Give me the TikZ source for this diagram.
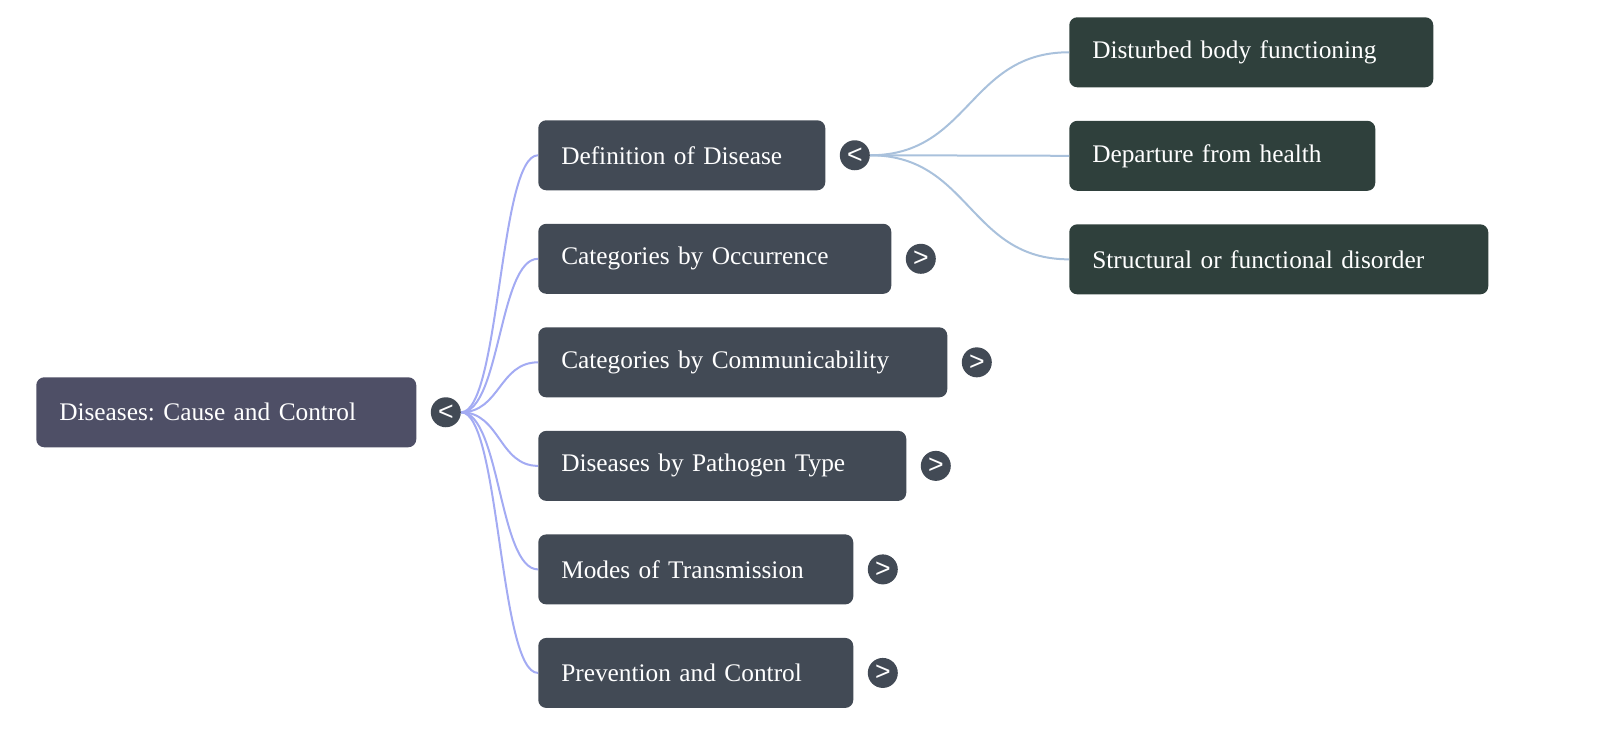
\documentclass[tikz,border=0pt]{standalone}
\usepackage{fontspec}
\setmainfont{Liberation Serif}
\newfontfamily\btnfont{Liberation Sans}
\usetikzlibrary{positioning}
\frenchspacing

\definecolor{rootcol}{HTML}{4E4F66}
\definecolor{lvlone}{HTML}{424A55}
\definecolor{lvltwo}{HTML}{2F403C}
\definecolor{linkone}{HTML}{A3ABF3}
\definecolor{linktwo}{HTML}{A9C1DC}

\tikzset{
	box/.style={rounded corners=6pt, text=white, align=left, minimum height=52.5pt,
		inner xsep=17.25pt, inner ysep=0pt, font=\fontsize{19}{22}\selectfont, text width=#1},
	rootbox/.style={box=#1, fill=rootcol},
	lvl/.style={box=#1, fill=lvlone},
	leaf/.style={box=#1, fill=lvltwo},
	btn/.style={circle, fill=lvlone, text=white, minimum size=22.5pt, inner sep=0pt,
		font=\btnfont\fontsize{20}{20}\selectfont},
	edgeone/.style={draw=linkone, line width=1.5pt},
	edgetwo/.style={draw=linktwo, line width=1.5pt}
}

\begin{document}
\begin{tikzpicture}[x=0.75pt, y=-0.75pt, node distance=24.75pt and 10.5pt]
	\useasboundingbox (0,0) rectangle (1600,735);
	\node[rootbox=250.5pt, anchor=north west] (root) at (36,377) {Diseases: Cause and Control};
	\node[lvl=180.75pt, anchor=north west] (def) at (538,120) {Definition of Disease};
	\node[lvl=230.25pt, below=of def.south west, anchor=north west] (occ) {Categories by Occurrence};
	\node[lvl=272.25pt, below=of occ.south west, anchor=north west] (comm) {Categories by Communicability};
	\node[lvl=241.5pt, below=of comm.south west, anchor=north west] (path) {Diseases by Pathogen Type};
	\node[lvl=201.75pt, below=of path.south west, anchor=north west] (modes) {Modes of Transmission};
	\node[lvl=201.75pt, below=of modes.south west, anchor=north west] (prev) {Prevention and Control};
	\node[leaf=238.5pt, anchor=north west] (dist) at (1069,17) {Disturbed body functioning};
	\node[leaf=195pt, below=of dist.south west, anchor=north west] (dep) {Departure from health};
	\node[leaf=279.75pt, below=of dep.south west, anchor=north west] (struct) {Structural or functional disorder};
	% toggles
	\node[btn, right=of root] (rootbtn) {<};
	\node[btn, right=of def] (defbtn) {<};
	\foreach \n in {occ, comm, path, modes, prev}
		\node[btn, right=of \n] (\n btn) {>};
	% links
	\foreach \to in {def, occ, comm, path, modes, prev}
		\draw[edgeone] (rootbtn.east) .. controls +(39,0) and +(-39,0) .. (\to.west);
	\foreach \to in {dist, dep, struct}
		\draw[edgetwo] (defbtn.east) .. controls +(100,0) and +(-100,0) .. (\to.west);
\end{tikzpicture}
\end{document}
